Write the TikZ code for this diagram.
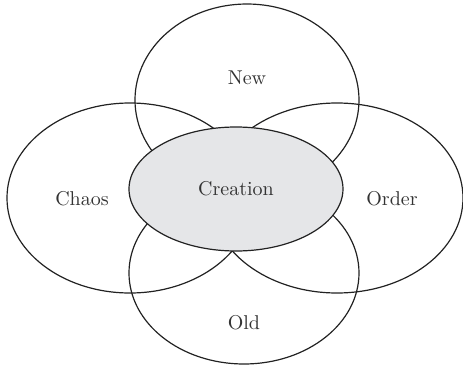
\documentclass[tikz,border=0pt]{standalone}
\usetikzlibrary{shapes.geometric}
\definecolor{ink}{HTML}{222222}
\definecolor{txt}{HTML}{333333}
\definecolor{core}{HTML}{E5E6E8}
\tikzset{
  petal/.style={draw=ink, line width=0.6pt},
  hub/.style={draw=ink, line width=0.6pt, fill=core},
  word/.style={text=txt, font=\fontsize{10}{12}\selectfont, inner sep=0pt}
}
\begin{document}
\begin{tikzpicture}[x=0.5pt, y=-0.5pt]
  \useasboundingbox (0,0) rectangle (463,365);
  % four outer ellipses
  \draw[petal] (247,100) ellipse [x radius=112, y radius=96];
  \draw[petal] (130,198) ellipse [x radius=123, y radius=95];
  \draw[petal] (337,198) ellipse [x radius=126, y radius=95];
  \draw[petal] (244,273) ellipse [x radius=115, y radius=91];
  % central ellipse on top
  \draw[hub] (236,189) ellipse [x radius=107, y radius=62];
  % labels
  \node[word] (new) at (247,78) {New};
  \node[word] (chaos) at (82,199) {Chaos};
  \node[word] (order) at (392,199) {Order};
  \node[word] (old) at (244,323) {Old};
  \node[word] (creation) at (236,189) {Creation};
\end{tikzpicture}
\end{document}
